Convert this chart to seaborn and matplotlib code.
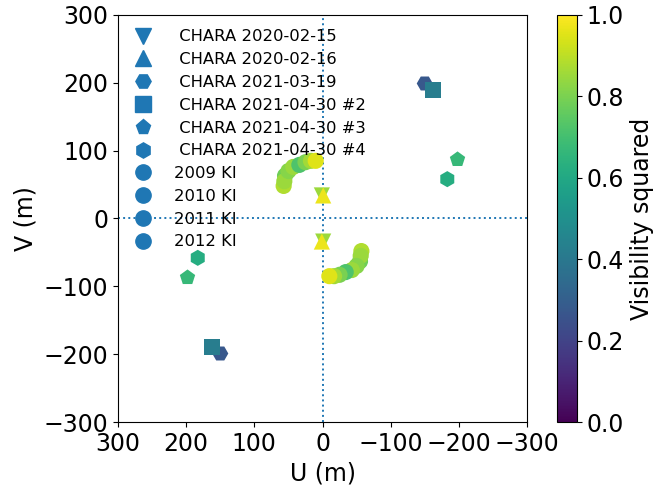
import numpy as np
import pandas as pd
import matplotlib
matplotlib.use("Agg")
import matplotlib.pyplot as plt
from matplotlib.lines import Line2D
import seaborn as sns

# ---- data (u, v in metres; visibility squared) ----
chara_labels = [" CHARA 2020-02-15", " CHARA 2020-02-16", " CHARA 2021-03-19",
                " CHARA 2021-04-30 #2", " CHARA 2021-04-30 #3", " CHARA 2021-04-30 #4"]
chara_markers = ["v", "^", "H", "s", "p", "h"]
chara_u = [1, -1, -150, -162, -198, -183]
chara_v = [34, 34, 199, 190, 87, 58]
chara_vis2 = [0.85, 0.97, 0.27, 0.42, 0.67, 0.62]

ki_labels = ["2009 KI", "2010 KI", "2011 KI", "2012 KI"]
ki_u = [[57, 55], [56, 50, 43], [34, 25], [17, 10]]
ki_v = [[48, 63], [55, 70, 76], [79, 83], [85, 85]]
ki_vis2 = [[0.88, 0.78], [0.85, 0.82, 0.85], [0.72, 0.80], [0.86, 0.95]]

xticks = [300, 200, 100, 0, -100, -200, -300]
yticks = [-300, -200, -100, 0, 100, 200, 300]

plt.rcParams["font.size"] = 17
fig = plt.figure(figsize=(6.58, 4.91), dpi=100)
ax = fig.add_axes([0.1793, 0.1405, 0.6217, 0.829])
cax = fig.add_axes([0.8465, 0.1405, 0.0305, 0.829])

cmap = "viridis"
norm = (0.0, 1.0)
msize = 135

ax.axhline(0, ls=":", color="C0", lw=1.4, zorder=0)
ax.axvline(0, ls=":", color="C0", lw=1.4, zorder=0)

# KI points (with conjugate points)
for lab, us, vs, cs in zip(ki_labels, ki_u, ki_v, ki_vis2):
    us = np.array(us, float); vs = np.array(vs, float); cs = np.array(cs, float)
    df = pd.DataFrame({"u": np.concatenate([us, -us]),
                       "v": np.concatenate([vs, -vs]),
                       "vis2": np.concatenate([cs, cs])})
    sns.scatterplot(data=df, x="u", y="v", hue="vis2", palette=cmap, hue_norm=norm,
                    marker="o", s=msize, linewidth=0, legend=False, ax=ax)

# CHARA points (with conjugate points)
for lab, m, u, v, c in zip(chara_labels, chara_markers, chara_u, chara_v, chara_vis2):
    df = pd.DataFrame({"u": [u, -u], "v": [v, -v], "vis2": [c, c]})
    sns.scatterplot(data=df, x="u", y="v", hue="vis2", palette=cmap, hue_norm=norm,
                    marker=m, s=msize, linewidth=0, legend=False, ax=ax)

ax.set_xlim(300, -300)
ax.set_ylim(-300, 300)
ax.set_xticks(xticks)
ax.set_yticks(yticks)
ax.set_xlabel("U (m)")
ax.set_ylabel("V (m)")

handles = []
for lab, m in zip(chara_labels, chara_markers):
    handles.append(Line2D([], [], ls="", marker=m, color="C0", markersize=11, label=lab))
for lab in ki_labels:
    handles.append(Line2D([], [], ls="", marker="o", color="C0", markersize=11, label=lab))
ax.legend(handles=handles, loc="upper left", frameon=False, fontsize=11.8,
          handlelength=1.6, handletextpad=1.13, labelspacing=0.475,
          borderpad=0.48, borderaxespad=0.0, bbox_to_anchor=(0.0087, 0.9839))

sm = matplotlib.cm.ScalarMappable(norm=matplotlib.colors.Normalize(0, 1), cmap=cmap)
cb = fig.colorbar(sm, cax=cax)
cb.set_label("Visibility squared")
cb.set_ticks([0.0, 0.2, 0.4, 0.6, 0.8, 1.0])

fig.savefig("out.png", dpi=100)
